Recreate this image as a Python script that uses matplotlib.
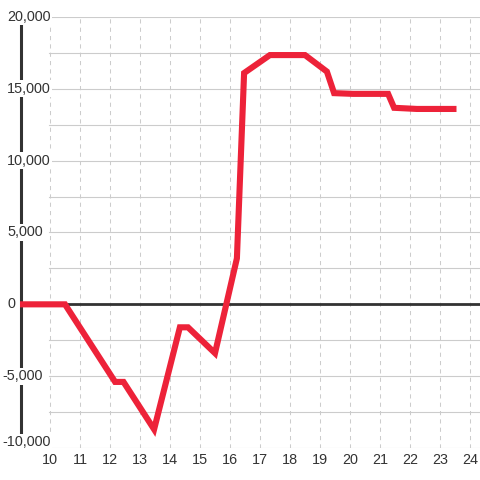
import numpy as np
import matplotlib
matplotlib.use("Agg")
import matplotlib.pyplot as plt

plt.rcParams['font.family'] = ['Liberation Sans', 'DejaVu Sans']

# data (hour of day vs. running total)
hours = [9.0, 10.5, 12.17, 12.45, 13.47, 14.33, 14.6, 15.5, 16.23, 16.47,
         17.33, 18.5, 19.23, 19.47, 20.1, 21.27, 21.47, 22.23, 23.55]
values = [0, 0, -5400, -5400, -8700, -1600, -1600, -3400, 3200, 16100,
          17350, 17350, 16200, 14700, 14650, 14650, 13680, 13600, 13600]

x_ticks = list(range(10, 25))
y_labels = [20000, 15000, 10000, 5000, 0, -5000, -10000]
y_grid = np.arange(-10000, 20001, 2500)

RED = '#ED2239'
DARK = '#333333'
GRID = '#cccccc'
PX = 1000 / 14.37   # data units per pixel on y

fig = plt.figure(figsize=(4.8, 4.8), dpi=100)
ax = fig.add_axes([20 / 480, 32 / 480, 460 / 480, 431 / 480])
ax.set_xlim(9, 24 + 1 / 3)
ax.set_ylim(-10000, 20000)
ax.axis('off')

# grid
for y in y_grid:
    ax.axhline(y, xmin=29 / 460, xmax=1, color=GRID, lw=0.8, zorder=1)
for x in x_ticks:
    ax.axvline(x, color=GRID, lw=0.75, ls=(0, (4, 4)), zorder=1)

# left "spine" and zero line
ax.plot([9 + 0.5 / 30, 9 + 0.5 / 30], [19600, -9350], color=DARK, lw=2.2,
        clip_on=False, zorder=2, solid_capstyle='butt')
ax.axhline(0, color=DARK, lw=2.0, zorder=3)

ax.plot(hours, values, color=RED, lw=4.4, zorder=5,
        solid_joinstyle='miter', solid_capstyle='butt', clip_on=False)

# y labels (white background boxes over the spine)
for v in y_labels:
    txt = f"{v:,}"
    xpos = 9 - 13 / 30 if v >= 0 else 9 - 18 / 30
    ypos = v + 6 * PX if v == -10000 else v
    ax.text(xpos, ypos, txt, ha='left', va='center', fontsize=10.4, color=DARK,
            zorder=4, clip_on=False,
            bbox=dict(boxstyle='square,pad=0.1', fc='white', ec='none'))

# x labels
for x in x_ticks:
    ax.text(x, -10000 - 12.5 * PX, str(x), ha='center', va='center',
            fontsize=10.4, color=DARK, clip_on=False)

fig.savefig('out.png', dpi=100, facecolor='white')
